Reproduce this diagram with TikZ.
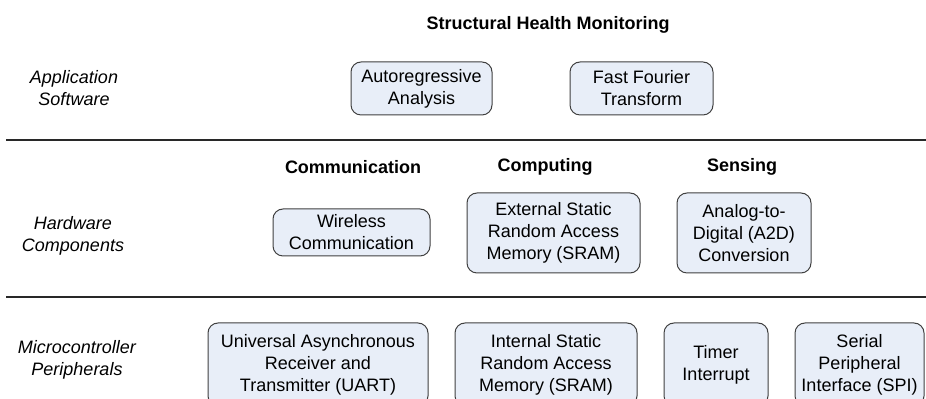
\documentclass[tikz,border=0pt]{standalone}
\usepackage{fontspec}
\setmainfont{Liberation Sans}
\usepackage{xcolor}
\definecolor{boxfill}{RGB}{232, 238, 248}
\definecolor{boxline}{RGB}{64, 64, 64}
\definecolor{sepcolor}{RGB}{40, 40, 40}
\usetikzlibrary{positioning}

\begin{document}
\begin{tikzpicture}[x=0.5pt, y=-0.5pt,
    layerbox/.style={draw=boxline, fill=boxfill, line width=0.5pt, rounded corners=5pt,
      inner sep=0pt, align=center, font=\fontsize{9}{11}\selectfont},
    layername/.style={align=center, font=\fontsize{9}{11}\selectfont\itshape},
    heading/.style={font=\fontsize{9}{11}\selectfont\bfseries},
    sepline/.style={draw=sepcolor, line width=1pt}]
  \clip (0,0) rectangle (926,399);

  % Separators
  \draw[sepline] (6,140) -- (926,140);
  \draw[sepline] (6,297) -- (926,297);

  % Layer names
  \node[layername] (appname) at (74,88) {Application\\Software};
  \node[layername] (hwname) at (73,236) {Hardware\\Components};
  \node[layername] (mcuname) at (77,360) {Microcontroller\\Peripherals};

  % Application software
  \node[heading] (shm) at (548,25) {Structural Health Monitoring};
  \node[layerbox, minimum width=70.5pt, minimum height=26.5pt] (ar) at (421.5,88.5) {Autoregressive\\Analysis};
  \node[layerbox, minimum width=71.5pt, minimum height=26.5pt] (fft) at (641.5,88.5) {Fast Fourier\\Transform};

  % Hardware components
  \node[heading] (comm) at (353,167) {Communication};
  \node[heading] (comp) at (545,167) {Computing};
  \node[heading] (sens) at (742,167) {Sensing};
  \node[layerbox, minimum width=78.5pt, minimum height=23.5pt] (wl) at (351.5,232.5) {Wireless\\Communication};
  \node[layerbox, minimum width=86.5pt, minimum height=40pt] (esram) at (553.5,233) {External Static\\Random Access\\Memory (SRAM)};
  \node[layerbox, minimum width=67pt, minimum height=40pt] (atod) at (744,233) {Analog-to-\\Digital (A2D)\\Conversion};

  % Microcontroller peripherals
  \node[layerbox, minimum width=110pt, minimum height=41.5pt] (uart) at (318,364.5) {Universal Asynchronous\\Receiver and\\Transmitter (UART)};
  \node[layerbox, minimum width=91pt, minimum height=41.5pt] (isram) at (546,364.5) {Internal Static\\Random Access\\Memory (SRAM)};
  \node[layerbox, minimum width=52pt, minimum height=41.5pt] (timer) at (716,364.5) {Timer\\Interrupt};
  \node[layerbox, minimum width=64.5pt, minimum height=41.5pt] (spi) at (859.5,364.5) {Serial\\Peripheral\\Interface (SPI)};
\end{tikzpicture}
\end{document}
